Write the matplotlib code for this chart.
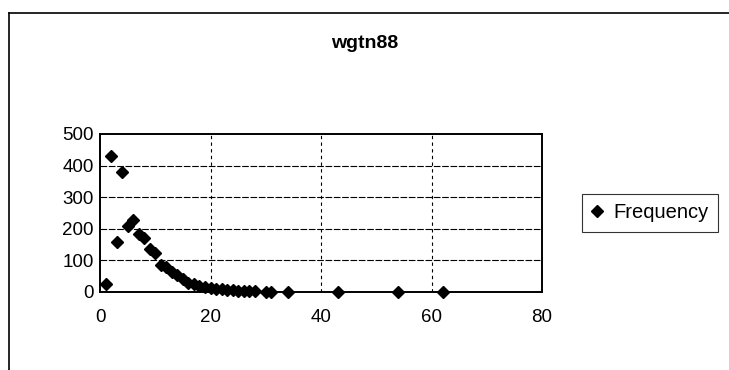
import matplotlib
matplotlib.use("Agg")
import matplotlib.pyplot as plt
from matplotlib.lines import Line2D

plt.rcParams['font.family'] = ['Liberation Sans', 'DejaVu Sans']

# word length vs. frequency
lengths = [1, 2, 3, 4, 5, 6, 7, 8, 9, 10, 11, 12, 13, 14, 15, 16, 17, 18, 19, 20,
           21, 22, 23, 24, 25, 26, 27, 28, 30, 31, 34, 43, 54, 62]
frequency = [25, 430, 157, 380, 210, 228, 182, 170, 135, 122, 87, 80, 64, 54, 42, 28,
             24, 20, 16, 12, 10, 8, 6, 5, 4, 3, 2, 2, 1, 1, 1, 1, 1, 1]
x_ticks = [0, 20, 40, 60, 80]
y_ticks = [0, 100, 200, 300, 400, 500]

fig = plt.figure(figsize=(7.29, 3.70), dpi=100)
ax = fig.add_axes([100 / 729, 1 - 292 / 370, 442 / 729, 158 / 370])

ax.plot(lengths, frequency, linestyle='none', marker='D', markersize=6.5,
        color='black', label='Frequency', zorder=3, clip_on=False)

ax.set_xlim(0, 80)
ax.set_ylim(0, 500)
ax.set_xticks(x_ticks)
ax.set_yticks(y_ticks)
ax.tick_params(axis='both', length=0, labelsize=13.5)
ax.tick_params(axis='x', pad=12)
ax.tick_params(axis='y', pad=4.5)

for y in y_ticks[1:-1]:
    ax.axhline(y, color='black', linewidth=0.8, linestyle=(0, (6, 1.5)), zorder=1)
for x in x_ticks[1:-1]:
    ax.axvline(x, color='black', linewidth=0.8, linestyle=(0, (3, 3)), zorder=1)

for s in ax.spines.values():
    s.set_linewidth(1.4)
    s.set_color('black')

fig.suptitle('wgtn88', x=365 / 729, y=1 - 43 / 370, va='center',
             fontsize=14, fontweight='bold')

handle = Line2D([], [], linestyle='none', marker='D', markersize=6.5, color='black')
leg = fig.legend([handle], ['Frequency'], loc='center left',
                 bbox_to_anchor=(582 / 729, 1 - 213 / 370), fontsize=14.5,
                 frameon=True, fancybox=False, handlelength=0.6, handletextpad=0.5,
                 borderpad=0.45, borderaxespad=0)
leg.get_frame().set_edgecolor('black')
leg.get_frame().set_linewidth(0.8)

# chart frame
fig.add_artist(Line2D([9 / 729, 9 / 729], [0, 1 - 13 / 370], color='black', linewidth=1.2))
fig.add_artist(Line2D([9 / 729, 1], [1 - 13 / 370, 1 - 13 / 370], color='black', linewidth=1.2))

fig.savefig('out.png', dpi=100)
